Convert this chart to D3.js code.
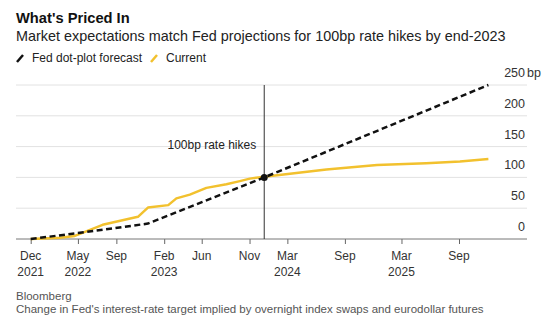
<!DOCTYPE html>
<html>
<head>
<meta charset="utf-8">
<script src="https://cdn.jsdelivr.net/npm/d3@7"></script>
<style>
  body { margin: 0; background: #fff; }
  text { font-family: "Liberation Sans", Arial, sans-serif; }
</style>
</head>
<body>
<div id="chart"></div>
<script>
// dot-plot forecast (bp)
var dotDates = ["2021-12-01", "2022-04-21", "2022-12-11", "2023-12-18", "2025-12-04"];
var dotValues = [0, 9, 25, 100, 250];

// current market pricing (bp)
var curDates = ["2021-12-01", "2022-03-04", "2022-04-21", "2022-07-19", "2022-11-09", "2022-12-11",
  "2023-02-14", "2023-03-12", "2023-04-24", "2023-06-16", "2023-08-19", "2023-10-01",
  "2023-11-02", "2023-12-18", "2024-07-04", "2024-12-13", "2025-05-19", "2025-09-04", "2025-12-04"];
var curValues = [0, 2, 5, 23, 36, 51, 55, 66, 72, 83, 89, 94, 98, 101, 113, 120, 123, 126, 130];

var tickDates = ["2021-12-01", "2022-05-01", "2022-09-01", "2023-02-01", "2023-06-01", "2023-11-01",
  "2024-03-01", "2024-09-01", "2025-03-01", "2025-09-01"];
var tickMonths = ["Dec", "May", "Sep", "Feb", "Jun", "Nov", "Mar", "Sep", "Mar", "Sep"];
var tickYears = ["2021", "2022", "", "2023", "", "", "2024", "", "2025", ""];
var yTicks = [0, 50, 100, 150, 200, 250];
var markerDate = "2023-12-18";

var W = 550, H = 330;
var parse = d3.timeParse("%Y-%m-%d");

var svg = d3.select("#chart").append("svg")
  .attr("width", W).attr("height", H);

var x = d3.scaleTime()
  .domain([parse("2021-12-01"), parse("2025-09-01")])
  .range([30.7, 459]);
var y = d3.scaleLinear().domain([0, 250]).range([239, 85]);

// titles
svg.append("text").attr("x", 16).attr("y", 23)
  .attr("font-size", 14.7).attr("font-weight", "bold").attr("fill", "#111")
  .text("What's Priced In");
svg.append("text").attr("x", 16).attr("y", 41)
  .attr("font-size", 14.4).attr("fill", "#222")
  .text("Market expectations match Fed projections for 100bp rate hikes by end-2023");

// legend
var legend = [{label: "Fed dot-plot forecast", color: "#111", x: 16}, {label: "Current", color: "#f2c12e", x: 150}];
legend.forEach(function(l) {
  svg.append("line").attr("x1", l.x + 1).attr("y1", 62).attr("x2", l.x + 7).attr("y2", 55)
    .attr("stroke", l.color).attr("stroke-width", 2.5);
  svg.append("text").attr("x", l.x + 16).attr("y", 62)
    .attr("font-size", 12).attr("fill", "#222").text(l.label);
});

// gridlines + right labels
svg.append("g").selectAll("line").data(yTicks.slice(1)).enter().append("line")
  .attr("x1", 16).attr("x2", 527)
  .attr("y1", d => y(d)).attr("y2", d => y(d))
  .attr("stroke", "#e2e2e2").attr("stroke-width", 1);
svg.append("g").selectAll("text").data(yTicks).enter().append("text")
  .attr("x", 525).attr("y", d => y(d) - 8)
  .attr("text-anchor", "end")
  .attr("font-size", 12.5).attr("fill", "#333")
  .text(d => d);
svg.append("text").attr("x", 527).attr("y", y(250) - 8)
  .attr("font-size", 12.5).attr("fill", "#333").text("bp");

// x axis
var xAxis = d3.axisBottom(x)
  .tickValues(tickDates.map(parse))
  .tickSize(5)
  .tickFormat("");
var gx = svg.append("g").attr("transform", "translate(0," + y(0) + ")").call(xAxis);
gx.select(".domain").remove();
gx.selectAll(".tick line").attr("stroke", "#666");
svg.append("line").attr("x1", 16).attr("x2", 527).attr("y1", y(0)).attr("y2", y(0))
  .attr("stroke", "#777").attr("stroke-width", 1);
tickDates.forEach(function(d, i) {
  var t = svg.append("text").attr("x", x(parse(d))).attr("y", 260)
    .attr("text-anchor", "middle").attr("font-size", 12).attr("fill", "#333");
  t.append("tspan").attr("x", x(parse(d))).text(tickMonths[i]);
  if (tickYears[i]) t.append("tspan").attr("x", x(parse(d))).attr("dy", 15.5).text(tickYears[i]);
});

// marker line
var mx = x(parse(markerDate));
svg.append("line").attr("x1", mx).attr("x2", mx).attr("y1", y(250)).attr("y2", y(0))
  .attr("stroke", "#333").attr("stroke-width", 1);
svg.append("text").attr("x", mx - 8).attr("y", y(150) + 2)
  .attr("text-anchor", "end").attr("font-size", 12).attr("fill", "#222")
  .text("100bp rate hikes");

var line = d3.line().x(d => x(d[0])).y(d => y(d[1]));

svg.append("path")
  .datum(curDates.map((d, i) => [parse(d), curValues[i]]))
  .attr("fill", "none").attr("stroke", "#f2c12e").attr("stroke-width", 2.5)
  .attr("stroke-linejoin", "round")
  .attr("d", line);

svg.append("path")
  .datum(dotDates.map((d, i) => [parse(d), dotValues[i]]))
  .attr("fill", "none").attr("stroke", "#111").attr("stroke-width", 2.5)
  .attr("stroke-dasharray", "6,3.5")
  .attr("d", line);

svg.append("circle").attr("cx", mx).attr("cy", y(100)).attr("r", 3.5).attr("fill", "#111");

// footer
svg.append("text").attr("x", 16).attr("y", 300)
  .attr("font-size", 11.5).attr("fill", "#555").text("Bloomberg");
svg.append("text").attr("x", 16).attr("y", 313)
  .attr("font-size", 11.5).attr("fill", "#555")
  .text("Change in Fed's interest-rate target implied by overnight index swaps and eurodollar futures");
</script>
</body>
</html>
